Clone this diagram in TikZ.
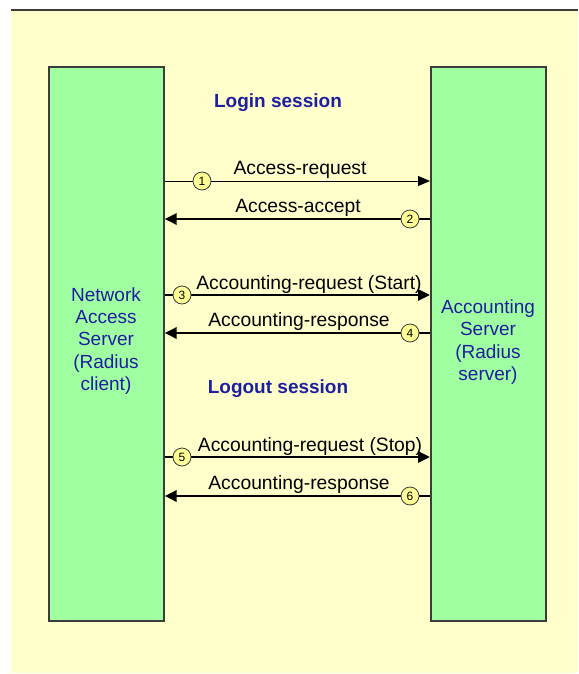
\documentclass[tikz,border=0pt]{standalone}
\usepackage{fontspec}
\setmainfont{Liberation Sans}
\usetikzlibrary{arrows.meta}
\definecolor{bgyellow}{RGB}{255,255,204}
\definecolor{boxgreen}{RGB}{160,255,160}
\definecolor{edgegray}{RGB}{60,60,60}
\definecolor{navy}{RGB}{30,30,160}
\definecolor{badge}{RGB}{255,255,150}
\tikzset{
  party/.style={draw=edgegray, line width=1.6pt, fill=boxgreen, minimum width=115pt, minimum height=554pt, inner sep=0pt, anchor=north west},
  partytext/.style={text=navy, font=\fontsize{19}{22.2}\selectfont, align=center},
  session/.style={text=navy, font=\fontsize{19}{22}\selectfont\bfseries},
  msg/.style={font=\fontsize{19.3}{22}\selectfont, text=black, inner sep=0pt},
  num/.style={circle, draw=edgegray, line width=0.8pt, fill=badge, minimum size=18pt, inner sep=0pt, font=\fontsize{12}{12}\selectfont},
  thin/.style={line width=1pt, -{Triangle[length=12pt,width=10pt]}},
  thick/.style={line width=2.8pt, -{Triangle[length=12pt,width=11pt]}}
}
\begin{document}
\begin{tikzpicture}[x=1pt,y=-1pt]
\useasboundingbox (0,0) rectangle (578,674);
\fill[bgyellow] (11,10) rectangle (578,673);
\draw[edgegray, line width=2pt] (11,10) -- (578,10);
\node[party] (nas) at (48,66) {};
\node[party] (acc) at (430,66) {};
\node[partytext] (nastxt) at (106,341) {Network\\Access\\Server\\(Radius\\client)};
\node[partytext] (acctxt) at (488,342) {Accounting\\Server\\(Radius\\server)};
\node[session] (login) at (278,103) {Login session};
\node[session] (logout) at (278,389) {Logout session};
% badges positions
\coordinate (p1) at (202,181);
\coordinate (p2) at (410,219);
\coordinate (p3) at (182,295);
\coordinate (p4) at (410,333);
\coordinate (p5) at (182,457);
\coordinate (p6) at (410,496);
\draw[thin] (nas.east |- p1) -- (acc.west |- p1);
\draw[thick] (acc.west |- p2) -- (nas.east |- p2);
\draw[thick] (nas.east |- p3) -- (acc.west |- p3);
\draw[thick] (acc.west |- p4) -- (nas.east |- p4);
\draw[thick] (nas.east |- p5) -- (acc.west |- p5);
\draw[thick] (acc.west |- p6) -- (nas.east |- p6);
\node[num] (n1) at (p1) {1};
\node[num] (n2) at (p2) {2};
\node[num] (n3) at (p3) {3};
\node[num] (n4) at (p4) {4};
\node[num] (n5) at (p5) {5};
\node[num] (n6) at (p6) {6};
\node[msg] (m1) at (300,170) {Access-request};
\node[msg] (m2) at (298,208) {Access-accept};
\node[msg] (m3) at (309,285) {Accounting-request (Start)};
\node[msg] (m4) at (299,322) {Accounting-response};
\node[msg] (m5) at (310,447) {Accounting-request (Stop)};
\node[msg] (m6) at (299,485) {Accounting-response};
\end{tikzpicture}
\end{document}
